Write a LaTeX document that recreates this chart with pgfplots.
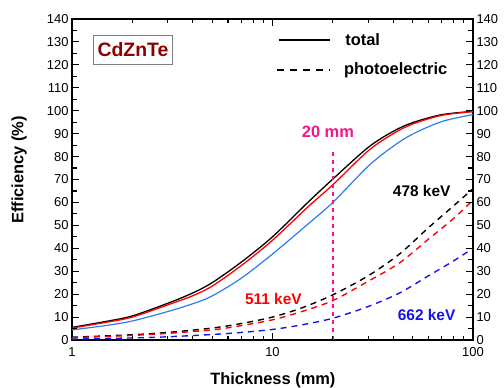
\documentclass[border=0pt]{standalone}
\usepackage{fontspec}
\setmainfont{Liberation Sans}
\usepackage{pgfplots}
\pgfplotsset{compat=1.18}
\usetikzlibrary{calc}
\definecolor{myred}{RGB}{255,0,0}
\definecolor{myblueL}{RGB}{45,125,235}
\definecolor{myblueD}{RGB}{20,20,235}
\definecolor{mypink}{RGB}{245,20,140}
\definecolor{mydarkred}{RGB}{140,0,0}
\begin{document}
\begin{tikzpicture}
\begin{axis}[name=ax, scale only axis, width=401bp, height=321bp,
  xmode=log, xmin=1, xmax=100, ymin=0, ymax=140,
  xtick={1,10,100}, xticklabels={1,10,100},
  ytick={0,10,...,140},
  tick style={draw=none},
  axis line style={line width=1.1bp},
  ticklabel style={font=\fontsize{13}{15}\selectfont},
  xticklabel style={yshift=-4bp},
  /pgf/number format/assume math mode=true,
  xlabel={\bfseries Thickness (mm)},
  ylabel={\bfseries Efficiency (\%)},
  label style={font=\bfseries\fontsize{16.5}{19}\selectfont},
  xlabel style={at={(axis description cs:0.501,-0.1246)}, anchor=center},
  ylabel style={at={(axis description cs:-0.132,0.53)}, anchor=center},
  clip=false,
]
% total
\addplot[myblueL, line width=1.2bp, smooth] coordinates {(1,4.4)(1.5,6.4)(2,8.3)(3,12.4)(4,15.8)(5,19.2)(7,27)(10,37.5)(15,50.5)(20,60)(30,75.8)(40,84.5)(50,89.8)(70,95.3)(100,98.3)};
\addplot[black, line width=1.3bp, smooth] coordinates {(1,5.5)(1.5,8.2)(2,10.5)(3,16)(4,20.5)(5,25)(7,34)(10,45)(15,60)(20,70.2)(30,84)(40,91)(50,94.8)(70,98.3)(100,99.7)};
\addplot[myred, line width=1.3bp, smooth] coordinates {(1,5.2)(1.5,7.8)(2,10)(3,15.3)(4,19.3)(5,23.5)(7,32.5)(10,43.5)(15,58)(20,67.7)(30,82.5)(40,90)(50,94.2)(70,98)(100,99.6)};
% photoelectric
\addplot[black, line width=1.4bp, smooth, dash pattern=on 6bp off 5bp] coordinates {(1,1.2)(2,2.3)(3,3.3)(5,5.2)(7,7.2)(10,10)(14,14)(20,19.7)(30,28)(43,37.5)(60,49)(80,58.5)(100,66)};
\addplot[myred, line width=1.4bp, smooth, dash pattern=on 6bp off 5bp] coordinates {(1,1.0)(2,2.0)(3,2.9)(5,4.4)(7,6.3)(10,8.8)(14,12.4)(20,17.2)(30,25.6)(43,33.6)(60,44)(80,53)(100,61)};
\addplot[myblueD, line width=1.4bp, smooth, dash pattern=on 6bp off 5bp] coordinates {(1,0.4)(2,0.9)(3,1.4)(5,2.4)(7,3.3)(10,4.6)(14,6.6)(20,9.5)(30,14.6)(43,20.5)(60,28)(80,34.5)(100,40)};
% 20 mm marker
\addplot[mypink, line width=2.3bp, dash pattern=on 3.5bp off 4.5bp] coordinates {(20,0)(20,82)};
\node[mypink, font=\bfseries\fontsize{16.5}{19}\selectfont] at (axis cs:18.9,90.8) {20 mm};
\node[black, font=\bfseries\fontsize{15.5}{18}\selectfont] at (axis cs:55.5,64.8) {478 keV};
\node[myred, font=\bfseries\fontsize{15.5}{18}\selectfont] at (axis cs:10.1,17.8) {511 keV};
\node[myblueD, font=\bfseries\fontsize{15.5}{18}\selectfont] at (axis cs:58.7,11) {662 keV};
% axis ticks (inside), all ends given in axis cs
\pgfplotsinvokeforeach{10,100}{
  \draw[black, line width=1.1bp] (axis cs:#1,0) -- (axis cs:#1,3.05);
  \draw[black, line width=1.1bp] (axis cs:#1,140) -- (axis cs:#1,136.95);}
\pgfplotsinvokeforeach{2,3,4,5,6,7,8,9,20,30,40,50,60,70,80,90}{
  \draw[black, line width=1.1bp] (axis cs:#1,0) -- (axis cs:#1,1.96);
  \draw[black, line width=1.1bp] (axis cs:#1,140) -- (axis cs:#1,138.04);}
\pgfplotsinvokeforeach{10,20,30,40,50,60,70,80,90,100,110,120,130}{
  \draw[black, line width=1.1bp] (axis cs:1,#1) -- (axis cs:1.0837,#1);
  \draw[black, line width=1.1bp] (axis cs:100,#1) -- (axis cs:92.28,#1);}
\pgfplotsinvokeforeach{5,15,25,35,45,55,65,75,85,95,105,115,125,135}{
  \draw[black, line width=1.1bp] (axis cs:1,#1) -- (axis cs:1.0531,#1);
  \draw[black, line width=1.1bp] (axis cs:100,#1) -- (axis cs:94.96,#1);}
% legend
\draw[black, line width=1.3bp] (rel axis cs:0.515,0.9346) -- (rel axis cs:0.643,0.9346);
\node[anchor=west, inner sep=0pt, font=\bfseries\fontsize{16.5}{19}\selectfont] at (rel axis cs:0.681,0.9346) {total};
\draw[black, line width=1.1bp, dash pattern=on 7bp off 6bp] (rel axis cs:0.512,0.841) -- (rel axis cs:0.643,0.841);
\node[anchor=west, inner sep=0pt, font=\bfseries\fontsize{16.5}{19}\selectfont] at (rel axis cs:0.678,0.841) {photoelectric};
% CdZnTe box
\draw[gray, line width=0.7bp] (rel axis cs:0.0531,0.860) rectangle (rel axis cs:0.251,0.948);
\node[mydarkred, font=\bfseries\fontsize{19.5}{22}\selectfont] at (rel axis cs:0.152,0.904) {CdZnTe};
\end{axis}
\begin{axis}[scale only axis, width=401bp, height=321bp,
  xmode=log, xmin=1, xmax=100, ymin=0, ymax=140,
  hide x axis, axis y line*=right,
  ytick={0,10,...,140}, y axis line style={draw=none},
  tick style={draw=none}, yticklabel pos=right,
  ticklabel style={font=\fontsize{13}{15}\selectfont},
  /pgf/number format/assume math mode=true,
]
\addplot[draw=none] coordinates {(1,0)(100,0)};
\end{axis}
\pgfresetboundingbox
\path ($(ax.south west)+(-72bp,-48bp)$) rectangle ($(ax.north east)+(31bp,19bp)$);
\end{tikzpicture}
\end{document}
